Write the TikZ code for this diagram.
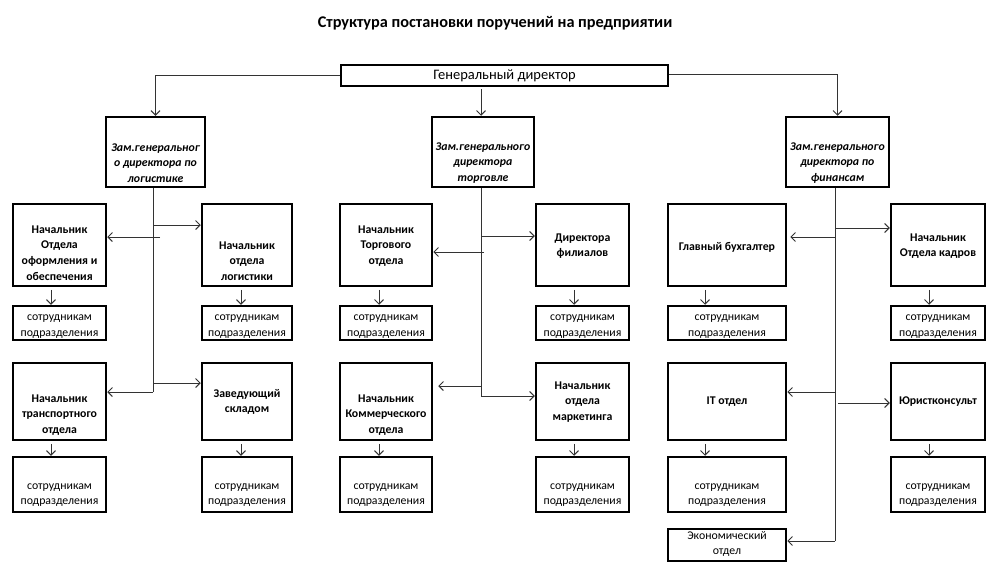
\documentclass[tikz,border=0pt]{standalone}
\usepackage{fontspec}
\setmainfont{Carlito}
\usetikzlibrary{arrows.meta,calc}
\newcommand\orgbox[8]{%
  \node[box, minimum width={(#4-#2)*1pt}, minimum height={(#5-#3)*1pt}] (#1) at ({(#2+#4)/2},{(#3+#5)/2}) {};
  \node[#7] (#1t) at ({(#2+#4)/2},{(#3+#5)/2+#6}) {#8};}
\begin{document}
\begin{tikzpicture}[x=1pt,y=-1pt,
  box/.style={draw=black, line width=2.5pt, inner sep=0pt, fill=white},
  lnk/.style={draw=black!80, line width=1pt},
  arr/.style={lnk, -{Straight Barb[length=4.5pt,width=9pt,line width=1pt]}},
  txt/.style={align=center, inner sep=0pt, font=\fontsize{11.8}{15.7}\selectfont},
  btxt/.style={align=center, inner sep=0pt, font=\bfseries\fontsize{11.8}{15.7}\selectfont},
  itxt/.style={align=center, inner sep=0pt, font=\bfseries\itshape\fontsize{11.8}{15.7}\selectfont},
  gtxt/.style={align=center, inner sep=0pt, font=\fontsize{14.5}{16}\selectfont},
]
\useasboundingbox[fill=white] (0,0) rectangle (995,573);
\node[font=\bfseries\fontsize{16.3}{18}\selectfont] (title) at (495,23) {Структура постановки поручений на предприятии};

\orgbox{GD}{341}{65}{668}{86}{0.5}{gtxt}{Генеральный директор}
\orgbox{DL}{106}{117}{205}{187}{11}{itxt}{Зам.генеральног\\о директора по\\логистике}
\orgbox{DM}{432}{117}{534}{187}{11}{itxt}{Зам.генерального\\директора\\торговле}
\orgbox{DR}{786}{117}{889}{187}{11}{itxt}{Зам.генерального\\директора по\\финансам}

% left group
\orgbox{LA1}{13}{204}{106}{286}{8}{btxt}{Начальник\\Отдела\\оформления и\\обеспечения}
\orgbox{LB1}{202}{204}{292}{286}{16}{btxt}{Начальник\\отдела\\логистики}
\orgbox{LA2}{13}{306}{106}{340}{3.5}{txt}{сотрудникам\\подразделения}
\orgbox{LB2}{202}{306}{292}{340}{3.5}{txt}{сотрудникам\\подразделения}
\orgbox{LA3}{13}{363}{106}{440}{13.5}{btxt}{Начальник\\транспортного\\отдела}
\orgbox{LB3}{202}{363}{292}{440}{0.5}{btxt}{Заведующий\\складом}
\orgbox{LA4}{13}{457}{106}{512}{10.5}{txt}{сотрудникам\\подразделения}
\orgbox{LB4}{202}{457}{292}{512}{10.5}{txt}{сотрудникам\\подразделения}

% middle group
\orgbox{MA1}{340}{204}{432}{286}{1}{btxt}{Начальник\\Торгового\\отдела}
\orgbox{MB1}{536}{204}{629}{286}{1}{btxt}{Директора\\филиалов}
\orgbox{MA2}{340}{306}{432}{340}{3.5}{txt}{сотрудникам\\подразделения}
\orgbox{MB2}{536}{306}{629}{340}{3.5}{txt}{сотрудникам\\подразделения}
\orgbox{MA3}{340}{363}{432}{440}{13.5}{btxt}{Начальник\\Коммерческого\\отдела}
\orgbox{MB3}{536}{363}{629}{440}{0.5}{btxt}{Начальник\\отдела\\маркетинга}
\orgbox{MA4}{340}{457}{432}{512}{10.5}{txt}{сотрудникам\\подразделения}
\orgbox{MB4}{536}{457}{629}{512}{10.5}{txt}{сотрудникам\\подразделения}

% right group
\orgbox{RA1}{668}{204}{786}{286}{2}{btxt}{Главный бухгалтер}
\orgbox{RB1}{891}{204}{985}{286}{1}{btxt}{Начальник\\Отдела кадров}
\orgbox{RA2}{668}{306}{786}{340}{3.5}{txt}{сотрудникам\\подразделения}
\orgbox{RB2}{891}{306}{985}{340}{3.5}{txt}{сотрудникам\\подразделения}
\orgbox{RA3}{668}{363}{786}{440}{0.5}{btxt}{IT отдел}
\orgbox{RB3}{891}{363}{985}{440}{0.5}{btxt}{Юристконсульт}
\orgbox{RA4}{668}{457}{786}{512}{10.5}{txt}{сотрудникам\\подразделения}
\orgbox{RB4}{891}{457}{985}{512}{10.5}{txt}{сотрудникам\\подразделения}
\orgbox{RE}{668}{529}{786}{561}{-1}{txt}{Экономический\\отдел}

% top connectors
\draw[arr] (GD.west) -- (GD.west -| DL.north) -- (DL.north);
\draw[arr] ($(GD.south -| 481,0)+(0,2)$) -- (DM.north -| 481,0);
\draw[arr] ([yshift=1.5pt]GD.east) -- ([yshift=1.5pt]GD.east -| DR.north) -- (DR.north);

% trunks
\coordinate (Lend) at (153,392);
\coordinate (Mend) at (481,396);
\coordinate (Rend) at (835,541);
\draw[lnk] (DL.south -| Lend) -- (Lend);
\draw[lnk] (DM.south -| Mend) -- (Mend);
\draw[lnk] (DR.south -| Rend) -- (Rend);

% left branches
\coordinate (L1) at (153,225);
\coordinate (L2) at (160,237);
\coordinate (L3) at (153,383);
\draw[arr] (L1) -- (L1 -| LB1.west);
\draw[arr] (L2) -- (L2 -| LA1.east);
\draw[arr] (L3) -- (L3 -| LB3.west);
\draw[arr] (Lend) -- (Lend -| LA3.east);

% middle branches
\coordinate (M1) at (481,236);
\coordinate (M2) at (484,252);
\coordinate (M3) at (481,386);
\draw[arr] (M1) -- (M1 -| MB1.west);
\draw[arr] (M2) -- (M2 -| MA1.east);
\draw[arr, shorten >=5pt] (M3) -- (M3 -| MA3.east);
\draw[arr] (Mend) -- (Mend -| MB3.west);

% right branches
\coordinate (R1) at (835,228);
\coordinate (R2) at (835,237);
\coordinate (R3) at (835,392);
\coordinate (R4) at (838,403);
\draw[arr] (R1) -- (R1 -| RB1.west);
\draw[arr, shorten >=3pt] (R2) -- (R2 -| RA1.east);
\draw[arr] (R3) -- (R3 -| RA3.east);
\draw[arr] (R4) -- (R4 -| RB3.west);
\draw[arr] (Rend) -- (Rend -| RE.east);

% down arrows
\foreach \a/\b/\dx in {LA1/LA2/-8.5, LB1/LB2/-6, MA1/MA2/-7, MB1/MB2/-8.5, RA1/RA2/-22, RB1/RB2/-9,
                       LA3/LA4/-8.5, LB3/LB4/-6, MA3/MA4/-7, MB3/MB4/-8.5, RA3/RA4/-22, RB3/RB4/-9}
  \draw[arr] ($(\a.south)+(\dx,2.5)$) -- ($(\b.north)+(\dx,0)$);
\end{tikzpicture}
\end{document}
